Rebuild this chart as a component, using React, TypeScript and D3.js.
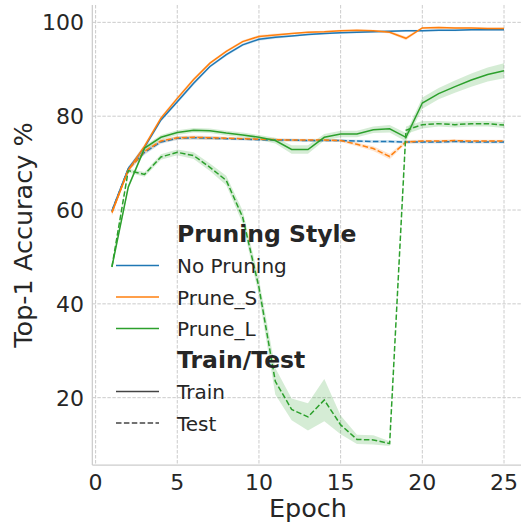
import React from "react";
import * as d3 from "d3";

// epochs on the x axis
const epochs = [1, 2, 3, 4, 5, 6, 7, 8, 9, 10, 11, 12, 13, 14, 15, 16, 17, 18, 19, 20, 21, 22, 23, 24, 25];

// mean accuracy per epoch
const noPruneTrain = [59.8, 68.8, 73.4, 79.2, 83.1, 87.0, 90.6, 93.1, 95.2, 96.4, 96.8, 97.1, 97.4, 97.6, 97.8, 97.9, 98.0, 98.1, 98.2, 98.2, 98.3, 98.3, 98.4, 98.4, 98.4];
const pruneSTrain = [59.5, 68.5, 73.6, 79.6, 83.8, 87.8, 91.3, 93.8, 95.9, 97.0, 97.3, 97.6, 97.9, 98.0, 98.2, 98.3, 98.2, 97.9, 96.6, 98.8, 98.9, 98.8, 98.8, 98.7, 98.7];
const pruneLTrain = [47.9, 64.9, 73.2, 75.5, 76.5, 77.0, 76.9, 76.4, 76.0, 75.5, 74.8, 72.9, 72.9, 75.5, 76.2, 76.2, 77.1, 77.3, 75.5, 82.8, 84.8, 86.3, 87.7, 88.9, 89.7];
const noPruneTest = [59.8, 68.8, 72.3, 74.5, 75.3, 75.4, 75.3, 75.2, 75.1, 75.0, 74.9, 74.9, 74.8, 74.8, 74.8, 74.7, 74.6, 74.6, 74.5, 74.5, 74.5, 74.6, 74.5, 74.5, 74.5];
const pruneSTest = [59.5, 68.6, 72.5, 74.7, 75.4, 75.5, 75.4, 75.3, 75.2, 75.1, 75.0, 74.9, 74.9, 74.9, 74.8, 74.0, 73.1, 71.4, 74.5, 74.7, 74.7, 74.8, 74.7, 74.7, 74.7];
const pruneLTest = [47.9, 68.4, 67.6, 71.3, 72.3, 71.6, 69.1, 66.3, 58.5, 43.5, 23.5, 17.5, 15.9, 19.5, 14.2, 11.1, 11.0, 10.2, 77.0, 78.2, 78.4, 78.2, 78.4, 78.4, 78.1];

// half width of the shaded band
const noPruneTrainCi = [0.6, 0.5, 0.5, 0.4, 0.4, 0.4, 0.3, 0.3, 0.3, 0.3, 0.3, 0.2, 0.2, 0.2, 0.2, 0.2, 0.2, 0.2, 0.2, 0.2, 0.2, 0.2, 0.2, 0.2, 0.2];
const pruneSTrainCi = [0.6, 0.5, 0.5, 0.4, 0.4, 0.4, 0.3, 0.3, 0.3, 0.3, 0.3, 0.2, 0.2, 0.2, 0.2, 0.2, 0.2, 0.3, 0.4, 0.2, 0.2, 0.2, 0.2, 0.2, 0.2];
const pruneLTrainCi = [0.4, 0.5, 0.5, 0.5, 0.5, 0.5, 0.5, 0.5, 0.5, 0.5, 0.6, 0.9, 0.9, 0.7, 0.7, 0.7, 0.7, 0.8, 0.9, 1.2, 1.2, 1.3, 1.4, 1.5, 1.6];
const noPruneTestCi = [0.6, 0.5, 0.5, 0.4, 0.4, 0.4, 0.4, 0.3, 0.3, 0.3, 0.3, 0.3, 0.3, 0.3, 0.3, 0.3, 0.3, 0.3, 0.3, 0.3, 0.3, 0.3, 0.3, 0.3, 0.3];
const pruneSTestCi = [0.6, 0.5, 0.5, 0.4, 0.4, 0.4, 0.4, 0.3, 0.3, 0.3, 0.3, 0.3, 0.3, 0.3, 0.3, 0.4, 0.5, 0.6, 0.4, 0.3, 0.3, 0.3, 0.3, 0.3, 0.3];
const pruneLTestCi = [0.4, 0.4, 0.5, 0.6, 0.6, 0.7, 0.8, 1.0, 1.4, 1.8, 2.8, 2.3, 2.9, 4.5, 2.0, 1.0, 1.0, 0.5, 0.8, 0.8, 0.6, 0.6, 0.6, 0.6, 0.6];

const styleNames = ["No Pruning", "Prune_S", "Prune_L"];
const styleColors = ["#1f77b4", "#ff7f0e", "#2ca02c"];
const xTicks = [0, 5, 10, 15, 20, 25];
const yTicks = [20, 40, 60, 80, 100];

const series = [
  { style: 0, test: false, values: noPruneTrain, ci: noPruneTrainCi },
  { style: 0, test: true, values: noPruneTest, ci: noPruneTestCi },
  { style: 1, test: false, values: pruneSTrain, ci: pruneSTrainCi },
  { style: 1, test: true, values: pruneSTest, ci: pruneSTestCi },
  { style: 2, test: false, values: pruneLTrain, ci: pruneLTrainCi },
  { style: 2, test: true, values: pruneLTest, ci: pruneLTestCi },
];

const W = 521;
const H = 523;
const FONT = "DejaVu Sans, sans-serif";
const TEXT = "#262626";
const GRID = "#cccccc";

export default function App() {
  const x = d3.scaleLinear().domain([0, 25]).range([95.6, 504]);
  const y = d3.scaleLinear().domain([5.65, 103.7]).range([465, 5]);
  const left = x(-0.2);
  const right = x(26.2);

  const line = (vals: number[]) =>
    d3.line<number>().x((_, i) => x(epochs[i])).y((d) => y(d))(vals) || "";
  const band = (vals: number[], ci: number[]) =>
    d3
      .area<number>()
      .x((_, i) => x(epochs[i]))
      .y0((d, i) => y(d - ci[i]))
      .y1((d, i) => y(d + ci[i]))(vals) || "";

  const legendRows = [
    { label: "Pruning Style", bold: true },
    ...styleNames.map((n, i) => ({ label: n, color: styleColors[i], dash: false })),
    { label: "Train/Test", bold: true },
    { label: "Train", color: "#444444", dash: false },
    { label: "Test", color: "#444444", dash: true },
  ];

  return (
    <svg width={W} height={H} style={{ position: "absolute", left: 0, top: 0, background: "#fff" }}>
      <rect width={W} height={H} fill="#fff" />
      {/* grid */}
      {xTicks.map((t) => (
        <line key={"gx" + t} x1={x(t)} x2={x(t)} y1={5} y2={465} stroke={GRID} strokeWidth={1} strokeDasharray="3.5,1.5" />
      ))}
      {yTicks.map((t) => (
        <line key={"gy" + t} x1={left} x2={right} y1={y(t)} y2={y(t)} stroke={GRID} strokeWidth={1} strokeDasharray="3.5,1.5" />
      ))}
      {/* spines */}
      <line x1={left} x2={left} y1={5} y2={465} stroke={GRID} strokeWidth={1.25} />
      <line x1={left} x2={right} y1={465} y2={465} stroke={GRID} strokeWidth={1.25} />

      {/* bands */}
      {series.map((s, i) => (
        <path key={"b" + i} d={band(s.values, s.ci)} fill={styleColors[s.style]} fillOpacity={0.2} stroke="none" />
      ))}
      {/* lines */}
      {series.map((s, i) => (
        <path
          key={"l" + i}
          d={line(s.values)}
          fill="none"
          stroke={styleColors[s.style]}
          strokeWidth={1.5}
          strokeDasharray={s.test ? "5.5,2.4" : undefined}
        />
      ))}

      {/* tick labels */}
      {xTicks.map((t) => (
        <text key={"tx" + t} x={x(t)} y={490} textAnchor="middle" fontFamily={FONT} fontSize={22} fill={TEXT}>
          {t}
        </text>
      ))}
      {yTicks.map((t) => (
        <text key={"ty" + t} x={84} y={y(t) + 8} textAnchor="end" fontFamily={FONT} fontSize={22} fill={TEXT}>
          {t}
        </text>
      ))}

      {/* axis labels */}
      <text x={(left + right) / 2} y={516.5} textAnchor="middle" fontFamily={FONT} fontSize={25.5} fill={TEXT}>
        Epoch
      </text>
      <text
        transform={`translate(31.5, ${(5 + 465) / 2}) rotate(-90)`}
        textAnchor="middle"
        fontFamily={FONT}
        fontSize={25.5}
        fill={TEXT}
      >
        Top-1 Accuracy %
      </text>

      {/* legend */}
      {legendRows.map((r: any, i) => {
        const by = 241.5 + i * 31.5;
        return (
          <g key={"lg" + i}>
            {r.color && (
              <line
                x1={116}
                x2={159}
                y1={by - 7.5}
                y2={by - 7.5}
                stroke={r.color}
                strokeWidth={1.5}
                strokeDasharray={r.dash ? "5.5,2.4" : undefined}
              />
            )}
            <text
              x={177}
              y={by}
              fontFamily={FONT}
              fontSize={r.bold ? 23.5 : 20}
              fontWeight={r.bold ? "bold" : "normal"}
              fill={TEXT}
            >
              {r.label}
            </text>
          </g>
        );
      })}
    </svg>
  );
}
